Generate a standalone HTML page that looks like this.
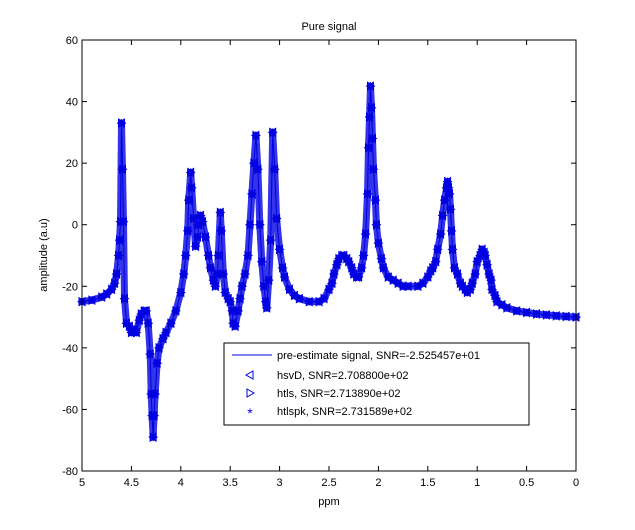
<!DOCTYPE html>
<html><head><meta charset="utf-8"><style>
body{margin:0;background:#fff}
svg{display:block;font-family:"Liberation Sans",sans-serif}
</style></head><body>
<svg id="c" width="635" height="530" viewBox="0 0 635 530">
<rect x="0" y="0" width="635" height="530" fill="#fff"/>
<rect x="82" y="40" width="494" height="431" fill="#fff" stroke="none"/>
<g id="series"></g>
<rect x="82" y="40" width="494" height="431" fill="none" stroke="#000" stroke-width="1"/>
<g id="ticks"></g>
<text x="329" y="30" font-size="11" text-anchor="middle">Pure signal</text>
<text x="329" y="505" font-size="11" text-anchor="middle">ppm</text>
<text x="47" y="255" font-size="11" text-anchor="middle" transform="rotate(-90 47 255)">amplitude (a.u)</text>
<g>
<rect x="224" y="343" width="305" height="82" fill="#fff" stroke="#000"/>
<g>
<line x1="232" y1="355" x2="272" y2="355" stroke="#0000e0" stroke-width="1"/>
<text x="277" y="359" font-size="11">pre-estimate signal, SNR=-2.525457e+01</text></g>
<g>
<polygon points="253,371 246,375 253,379" fill="none" stroke="#0000e0"/>
<text x="277" y="379" font-size="11">hsvD, SNR=2.708800e+02</text></g>
<g>
<polygon points="247,389 254,393 247,397" fill="none" stroke="#0000e0"/>
<text x="277" y="397" font-size="11">htls, SNR=2.713890e+02</text></g>
<g>
<text x="250" y="418" font-size="14" fill="#0000e0" text-anchor="middle">*</text>
<text x="277" y="415" font-size="11">htlspk, SNR=2.731589e+02</text></g>
</g>
</svg>
<script>
const signal=[[5.0,-25],[4.9,-24.5],[4.8,-23.5],[4.75,-22.5],[4.7,-21],[4.67,-19],[4.65,-16],[4.63,-10],[4.62,-5],[4.61,1],[4.6,33],[4.59,18],[4.58,1],[4.57,-24],[4.55,-32],[4.52,-33],[4.5,-35],[4.47,-34],[4.45,-35],[4.42,-31],[4.4,-29],[4.37,-28],[4.35,-28],[4.33,-32],[4.31,-42],[4.3,-55],[4.29,-62],[4.28,-69],[4.27,-62],[4.26,-55],[4.24,-45],[4.22,-40],[4.18,-37],[4.15,-35],[4.1,-32],[4.05,-28],[4.0,-22],[3.97,-16],[3.95,-10],[3.93,-2],[3.92,8],[3.9,17],[3.89,12],[3.87,2],[3.85,-7],[3.83,-4],[3.82,0],[3.8,3],[3.78,1],[3.75,-4],[3.72,-10],[3.7,-14],[3.67,-18],[3.65,-20],[3.63,-16],[3.62,-10],[3.6,4],[3.59,-2],[3.57,-16],[3.55,-22],[3.52,-24],[3.5,-25],[3.48,-28],[3.47,-32],[3.45,-33],[3.42,-28],[3.4,-24],[3.38,-20],[3.35,-16],[3.32,-10],[3.3,0],[3.28,10],[3.26,20],[3.24,29],[3.22,18],[3.2,0],[3.18,-12],[3.16,-20],[3.14,-25],[3.13,-27],[3.11,-18],[3.09,-5],[3.07,30],[3.05,18],[3.03,2],[3.0,-8],[2.97,-14],[2.95,-17],[2.9,-21],[2.85,-23],[2.8,-24],[2.7,-25],[2.6,-25],[2.55,-24],[2.5,-21],[2.47,-19],[2.45,-16],[2.42,-13],[2.4,-11],[2.37,-10],[2.35,-10],[2.32,-11],[2.3,-12],[2.27,-14],[2.25,-16],[2.22,-17],[2.2,-17],[2.17,-14],[2.15,-10],[2.13,-3],[2.11,10],[2.1,25],[2.09,35],[2.08,45],[2.07,38],[2.06,28],[2.05,18],[2.03,8],[2.02,0],[2.0,-6],[1.97,-11],[1.95,-14],[1.9,-17],[1.85,-18],[1.8,-19],[1.75,-20],[1.7,-20],[1.6,-20],[1.55,-19],[1.5,-17],[1.47,-15],[1.45,-14],[1.42,-12],[1.4,-8],[1.37,-3],[1.35,3],[1.33,8],[1.31,12],[1.3,14],[1.29,12],[1.28,10],[1.27,5],[1.26,-2],[1.25,-8],[1.23,-14],[1.2,-16],[1.17,-19],[1.15,-20],[1.12,-21],[1.1,-22],[1.07,-21],[1.05,-19],[1.02,-16],[1.0,-12],[0.97,-10],[0.95,-8],[0.93,-9],[0.92,-10],[0.9,-13],[0.88,-16],[0.86,-18],[0.85,-21],[0.82,-23],[0.8,-25],[0.75,-26],[0.7,-27],[0.6,-28],[0.5,-28.5],[0.4,-29],[0.3,-29.3],[0.2,-29.6],[0.1,-29.8],[0.0,-30]];
const ppm=signal.map(d=>d[0]);
const amp=signal.map(d=>d[1]);
const yTicks=[60,40,20,0,-20,-40,-60,-80];
const xTicks=[5,4.5,4,3.5,3,2.5,2,1.5,1,0.5,0];
const X0=82,X1=576,Y0=40,Y1=471;
const xs=p=>X0+(5-p)/5*(X1-X0);
const ys=v=>Y0+(60-v)/140*(Y1-Y0);
const NS="http://www.w3.org/2000/svg";
function mk(tag,attrs,parent){const e=document.createElementNS(NS,tag);for(const k in attrs)e.setAttribute(k,attrs[k]);parent.appendChild(e);return e;}
const tk=document.getElementById('ticks');
yTicks.forEach(v=>{const y=ys(v);
 const t1=mk('line',{x1:X0,y1:y,x2:X0+5,y2:y,stroke:'#000'},tk);
 
 
 mk('line',{x1:X1,y1:y,x2:X1-5,y2:y,stroke:'#000'},tk);
 const t=mk('text',{x:X0-4,y:y+4,'font-size':11,'text-anchor':'end'},tk);t.textContent=v;
 
 
});
xTicks.forEach(v=>{const x=xs(v);
 const t1=mk('line',{x1:x,y1:Y1,x2:x,y2:Y1-5,stroke:'#000'},tk);
 
 
 mk('line',{x1:x,y1:Y0,x2:x,y2:Y0+5,stroke:'#000'},tk);
 const t=mk('text',{x:x,y:Y1+15,'font-size':11,'text-anchor':'middle'},tk);t.textContent=v;
 
 
});
const sg=document.getElementById('series');
const pts=ppm.map((p,i)=>xs(p).toFixed(1)+','+ys(amp[i]).toFixed(1)).join(' ');
const band=mk('polyline',{points:pts,fill:'none',stroke:'#1e1ee6','stroke-width':7,'stroke-linejoin':'round','stroke-linecap':'round',opacity:0.9},sg);


const line=mk('polyline',{points:pts,fill:'none',stroke:'#0000e0','stroke-width':1},sg);


ppm.forEach((p,i)=>{const x=xs(p),y=ys(amp[i]);
 const a=mk('polygon',{points:`${x+3},${y-4} ${x-4},${y} ${x+3},${y+4}`,fill:'none',stroke:'#0000e0'},sg);
 
 
 const b=mk('polygon',{points:`${x-3},${y-4} ${x+4},${y} ${x-3},${y+4}`,fill:'none',stroke:'#0000e0'},sg);
 
 
 const s=mk('path',{d:`M${x-4},${y}H${x+4}M${x},${y-4}V${y+4}M${x-3},${y-3}L${x+3},${y+3}M${x-3},${y+3}L${x+3},${y-3}`,stroke:'#0000e0'},sg);
 
 
});
</script>
</body></html>
